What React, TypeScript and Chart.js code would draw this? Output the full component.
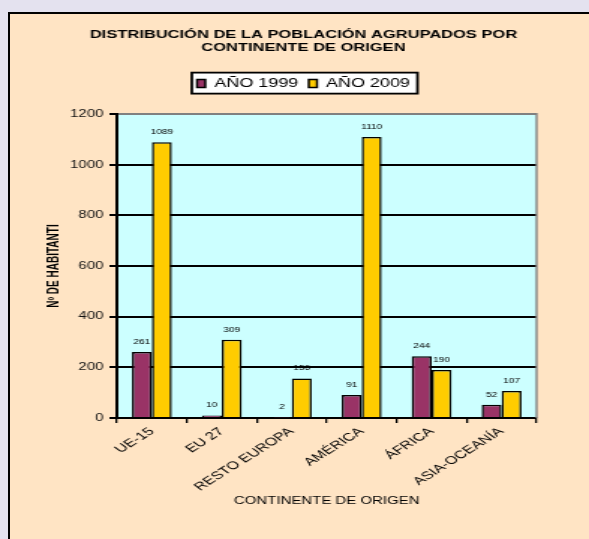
import React, { useEffect, useRef } from "react";
import { Chart, registerables } from "chart.js";

Chart.register(...registerables);

// ---- data ----
const categories = ["UE-15", "EU 27", "RESTO EUROPA", "AMÉRICA", "ÁFRICA", "ASIA-OCEANÍA"];
const year1999 = [261, 10, 2, 91, 244, 52];
const year2009 = [1089, 309, 156, 1110, 190, 107];
const seriesLabels = ["AÑO 1999", "AÑO 2009"];
const yMin = 0;
const yMax = 1200;
const yStep = 200;
const titleLines = ["DISTRIBUCIÓN DE LA POBLACIÓN AGRUPADOS POR", "CONTINENTE DE ORIGEN"];
const xTitle = "CONTINENTE DE ORIGEN";
const yTitle = "Nº DE HABITANTI";

// ---- look ----
const W = 589;
const H = 539;
const STRETCH = 1.5; // the reference is horizontally stretched
const BW = Math.round(W / STRETCH);
const FONT = "'Liberation Sans', Arial, sans-serif";
const MAROON = "#993366";
const YELLOW = "#FFCC00";
const PLOT_BG = "#CCFFFF";
const PANEL_BG = "#FFE4C4";
const PAGE_BG = "#E4E2EF";

const decorPlugin = {
  id: "decor",
  beforeDraw(chart: any) {
    const { ctx, chartArea } = chart;
    ctx.save();
    ctx.fillStyle = PLOT_BG;
    ctx.fillRect(chartArea.left, chartArea.top, chartArea.right - chartArea.left, chartArea.bottom - chartArea.top);
    const lg = chart.legend;
    if (lg && lg.legendHitBoxes && lg.legendHitBoxes.length) {
      const hb = lg.legendHitBoxes;
      let l = Infinity, r = -Infinity, t = Infinity, b = -Infinity;
      hb.forEach((h: any) => {
        l = Math.min(l, h.left);
        r = Math.max(r, h.left + h.width);
        t = Math.min(t, h.top);
        b = Math.max(b, h.top + h.height);
      });
      const x0 = l - 3.5, x1 = r + 5, y0 = t - 5, y1 = b + 4;
      ctx.fillStyle = "#ffffff";
      ctx.fillRect(x0, y0, x1 - x0, y1 - y0);
      ctx.strokeStyle = "#000";
      ctx.lineWidth = 1.8;
      ctx.strokeRect(x0, y0, x1 - x0, y1 - y0);
    }
    ctx.restore();
  },
  afterDatasetsDraw(chart: any) {
    const { ctx } = chart;
    ctx.save();
    ctx.fillStyle = "#000";
    ctx.font = `6.8px ${FONT}`;
    ctx.textAlign = "center";
    ctx.textBaseline = "middle";
    chart.data.datasets.forEach((ds: any, di: number) => {
      const meta = chart.getDatasetMeta(di);
      meta.data.forEach((bar: any, i: number) => {
        ctx.fillText(String(ds.data[i]), bar.x, bar.y - 10);
      });
    });
    ctx.restore();
  },
  afterDraw(chart: any) {
    const { ctx, chartArea } = chart;
    ctx.save();
    ctx.strokeStyle = "#808080";
    ctx.lineWidth = 1.4;
    ctx.beginPath();
    ctx.moveTo(chartArea.right, chartArea.top - 1);
    ctx.lineTo(chartArea.right, chartArea.bottom);
    ctx.stroke();
    ctx.restore();
  },
};

export default function App() {
  const ref = useRef<HTMLCanvasElement>(null);

  useEffect(() => {
    const canvas = ref.current;
    if (!canvas) return;
    const chart = new Chart(canvas, {
      type: "bar",
      data: {
        labels: categories,
        datasets: [
          {
            label: seriesLabels[0],
            data: year1999,
            backgroundColor: MAROON,
            borderColor: "#000",
            borderWidth: 1.5,
            categoryPercentage: 0.57,
            barPercentage: 1,
            xAxisID: "x",
            yAxisID: "y",
          },
          {
            label: seriesLabels[1],
            data: year2009,
            backgroundColor: YELLOW,
            borderColor: "#000",
            borderWidth: 1.5,
            categoryPercentage: 0.57,
            barPercentage: 1,
            xAxisID: "x",
            yAxisID: "y",
          },
        ],
      },
      options: {
        animation: false,
        responsive: false,
        devicePixelRatio: 1,
        events: [],
        layout: { padding: { left: 12, right: 0, top: 0, bottom: 0 } },
        plugins: {
          title: {
            display: true,
            text: titleLines,
            color: "#000",
            font: { family: FONT, size: 11, weight: "bold", lineHeight: 1.21 },
            padding: { top: 28, bottom: 16 },
          },
          legend: {
            display: true,
            position: "top",
            labels: {
              color: "#000",
              font: { family: FONT, size: 12 },
              boxWidth: 5.5,
              boxHeight: 8,
              padding: 7,
            },
          },
          tooltip: { enabled: false },
        },
        scales: {
          x: {
            type: "category",
            position: "bottom",
            offset: true,
            grid: {
              display: true,
              drawOnChartArea: false,
              drawTicks: true,
              tickLength: 5,
              color: "#000",
              lineWidth: 1.3,
              offset: true,
            },
            border: { display: true, color: "#000", width: 2 },
            ticks: {
              color: "#000",
              font: { family: FONT, size: 11 },
              minRotation: 43,
              maxRotation: 43,
              padding: 2,
              autoSkip: false,
            },
            title: {
              display: true,
              text: xTitle,
              color: "#000",
              font: { family: FONT, size: 10 },
              padding: { top: 0, bottom: 32 },
            },
            afterFit: (s: any) => {
              s.height = H - 418;
            },
          },
          y: {
            type: "linear",
            position: "left",
            min: yMin,
            max: yMax,
            ticks: {
              stepSize: yStep,
              color: "#111",
              font: { family: FONT, size: 10 },
              padding: 4,
              callback: (v: any) => String(v),
            },
            grid: {
              color: (c: any) => (c.tick && c.tick.value === yMax ? "#808080" : "#000"),
              tickColor: "#000",
              lineWidth: 2,
              tickLength: 5,
              drawTicks: true,
            },
            border: { display: true, color: "#000", width: 2 },
            title: {
              display: true,
              text: yTitle,
              color: "#000",
              font: { family: FONT, size: 10, weight: "bold" },
              padding: { top: 18.7, bottom: 0 },
            },
            afterFit: (s: any) => {
              s.width = 66;
            },
          },
          yRight: {
            type: "linear",
            position: "right",
            display: true,
            grid: { display: false },
            ticks: { display: false },
            border: { display: false },
            afterFit: (s: any) => {
              s.width = 35;
            },
          },
          xTop: {
            type: "category",
            position: "top",
            display: true,
            grid: { display: false },
            ticks: { display: false },
            border: { display: false },
            afterFit: (s: any) => {
              s.height = 14.5;
            },
          },
        },
      } as any,
      plugins: [decorPlugin],
    });
    return () => chart.destroy();
  }, []);

  return (
    <div
      style={{
        position: "fixed",
        left: 0,
        top: 0,
        width: W,
        height: H,
        overflow: "hidden",
        background: PAGE_BG,
      }}
    >
      <div
        style={{
          position: "absolute",
          left: 8,
          top: 12,
          width: W,
          height: H,
          borderLeft: "2px solid #000",
          borderTop: "2px solid #000",
          background: PANEL_BG,
        }}
      />
      <canvas
        ref={ref}
        width={BW}
        height={H}
        style={{ position: "absolute", left: 0, top: 0, width: W + "px", height: H + "px" }}
      />
    </div>
  );
}
